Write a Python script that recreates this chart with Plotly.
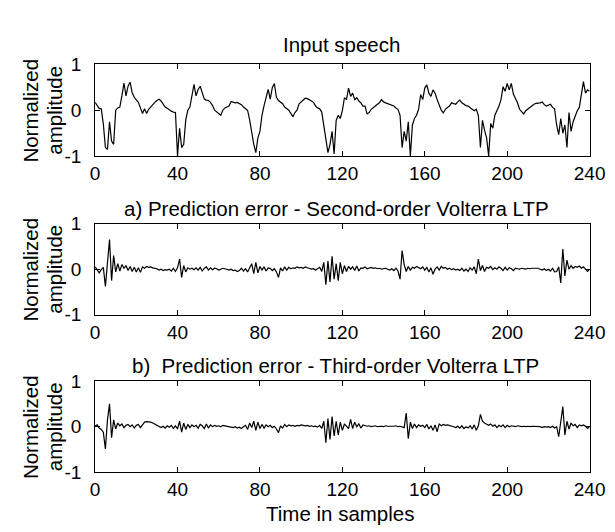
import plotly.graph_objects as go

W, H = 615, 532

samples = list(range(0, 241))

speech = [
    0.17, 0.10, 0.04, 0.03, -0.30, -0.81, -0.85, -0.25, -0.67, -0.74,
    0.00, 0.05, 0.07, 0.31, 0.59, 0.31, 0.52, 0.61, 0.38, 0.28,
    0.22, 0.17, 0.05, -0.07, 0.03, -0.07, 0.02, 0.07, 0.14, 0.17,
    0.21, 0.24, 0.20, 0.14, 0.07, 0.04, 0.00, -0.02, -0.04, -0.05,
    -0.99, -0.39, -0.81, -0.74, -0.21, 0.00, 0.07, 0.31, 0.56, 0.31,
    0.45, 0.52, 0.35, 0.24, 0.22, 0.21, 0.17, 0.10, 0.00, -0.04,
    -0.08, -0.11, 0.00, 0.05, 0.07, 0.09, 0.19, 0.17, 0.16, 0.17,
    0.14, 0.12, 0.07, 0.04, 0.00, -0.21, -0.53, -0.74, -0.92, -0.60,
    -0.46, -0.11, 0.10, 0.31, 0.45, 0.24, 0.49, 0.58, 0.28, 0.21,
    0.17, 0.14, 0.07, 0.03, 0.00, -0.07, -0.14, -0.05, 0.00, 0.14,
    0.18, 0.21, 0.26, 0.25, 0.23, 0.20, 0.17, 0.09, 0.05, 0.03,
    -0.04, -0.32, -0.67, -0.92, -0.74, -0.46, -0.95, -0.22, -0.11, -0.18,
    -0.01, 0.27, 0.23, 0.48, 0.30, 0.37, 0.23, 0.27, 0.20, 0.16,
    0.09, 0.09, -0.08, -0.05, 0.02, 0.05, 0.09, 0.13, 0.16, 0.23,
    0.18, 0.16, 0.14, 0.13, 0.11, 0.09, 0.05, 0.02, -0.11, -0.81,
    -0.46, -0.67, -0.25, -0.99, -0.32, -0.18, -0.11, 0.02, 0.34, 0.23,
    0.48, 0.55, 0.37, 0.30, 0.44, 0.37, 0.23, 0.09, 0.00, -0.06,
    0.02, 0.06, 0.09, 0.16, 0.14, 0.13, 0.18, 0.22, 0.16, 0.13,
    0.10, 0.09, 0.06, 0.02, -0.01, 0.02, -0.11, -0.81, -0.22, -0.43,
    -0.60, -0.99, -0.29, -0.39, -0.11, -0.01, 0.09, 0.23, 0.51, 0.41,
    0.58, 0.44, 0.58, 0.35, 0.27, 0.16, 0.02, -0.03, -0.08, -0.01,
    0.03, 0.06, 0.10, 0.13, 0.15, 0.15, 0.16, 0.18, 0.12, 0.09,
    0.11, 0.13, 0.06, 0.03, -0.32, -0.53, -0.18, -0.50, -0.32, -0.81,
    -0.05, -0.46, -0.25, -0.11, -0.01, 0.06, 0.30, 0.62, 0.37, 0.44,
    0.41,
]

error_second = [
    0.05, -0.03, -0.08, -0.01, 0.04, -0.38, 0.22, 0.65, -0.25, 0.30,
    -0.06, 0.12, -0.04, 0.10, 0.02, 0.08, -0.03, 0.06, -0.05, 0.04,
    -0.06, 0.03, -0.07, 0.05, 0.02, 0.06, 0.04, 0.05, 0.03, 0.02,
    0.01, -0.02, 0.00, -0.03, -0.01, -0.02, 0.00, -0.04, 0.02, -0.05,
    0.03, 0.22, -0.18, 0.08, -0.06, 0.03, 0.00, 0.02, -0.01, 0.03,
    -0.02, 0.04, -0.04, 0.02, 0.05, -0.02, 0.03, -0.01, 0.02, 0.01,
    -0.02, 0.00, 0.02, 0.01, 0.00, -0.02, 0.00, -0.03, -0.02, -0.05,
    -0.03, 0.02, -0.04, 0.01, -0.06, 0.04, 0.12, -0.10, 0.15, -0.08,
    0.06, -0.02, 0.05, -0.04, 0.03, 0.02, -0.03, 0.01, -0.06, -0.18,
    0.03, -0.04, 0.05, -0.02, 0.04, 0.01, 0.03, 0.02, 0.05, 0.03,
    0.04, 0.02, 0.05, 0.03, 0.02, 0.00, 0.01, -0.02, 0.01, 0.04,
    -0.05, 0.15, -0.34, 0.18, -0.28, 0.28, -0.22, 0.12, -0.25, 0.15,
    -0.10, 0.08, -0.05, 0.06, 0.00, 0.05, -0.03, 0.07, -0.04, 0.03,
    0.02, 0.05, 0.01, 0.03, 0.04, 0.02, 0.03, 0.01, 0.02, 0.00,
    0.01, 0.02, 0.00, -0.02, 0.01, -0.03, 0.02, -0.04, -0.22, 0.41,
    0.10, -0.05, 0.06, -0.02, 0.04, 0.02, 0.06, 0.03, 0.01, 0.05,
    -0.02, 0.04, -0.06, 0.03, -0.11, 0.00, 0.05, -0.02, 0.06, 0.02,
    0.04, 0.00, 0.02, -0.01, 0.01, -0.02, 0.00, -0.03, 0.02, -0.04,
    0.00, -0.05, 0.03, -0.02, 0.05, -0.10, 0.22, -0.03, 0.08, -0.05,
    0.04, 0.02, 0.06, -0.01, 0.03, 0.00, 0.05, 0.02, -0.03, 0.04,
    -0.02, 0.03, 0.01, -0.03, 0.02, 0.01, 0.00, 0.02, 0.01, 0.00,
    0.02, 0.01, 0.02, 0.02, 0.01, 0.02, 0.00, -0.02, 0.01, -0.03,
    0.00, -0.04, 0.02, -0.06, -0.05, 0.05, -0.30, 0.44, -0.15, 0.20,
    0.00, 0.08, 0.02, 0.06, 0.04, 0.07, 0.02, 0.05, 0.00, -0.05,
    0.00,
]

error_third = [
    0.02, 0.04, -0.03, -0.06, -0.12, -0.49, 0.15, 0.50, -0.24, 0.15,
    -0.05, 0.08, 0.02, 0.06, -0.02, 0.03, 0.05, 0.00, 0.04, -0.03,
    0.03, 0.05, -0.02, 0.04, 0.10, 0.11, 0.11, 0.10, 0.08, 0.05,
    0.02, 0.00, -0.02, 0.01, -0.03, 0.02, -0.01, 0.03, -0.04, 0.02,
    -0.05, 0.12, -0.12, 0.08, -0.06, 0.05, -0.02, 0.04, 0.00, 0.03,
    -0.03, 0.05, 0.02, -0.04, 0.06, -0.03, 0.04, 0.00, 0.03, 0.01,
    0.02, 0.00, 0.03, 0.02, 0.01, 0.00, -0.01, -0.02, 0.00, -0.03,
    -0.01, -0.04, 0.00, 0.03, -0.06, 0.08, -0.02, 0.12, -0.08, 0.10,
    -0.04, 0.05, -0.03, 0.04, 0.00, 0.03, -0.02, 0.01, -0.05, -0.13,
    0.02, -0.03, 0.05, 0.00, 0.04, 0.02, 0.03, 0.01, 0.03, 0.02,
    0.04, 0.03, 0.02, 0.03, 0.01, 0.02, 0.00, 0.01, -0.01, 0.03,
    -0.04, 0.12, -0.35, 0.18, -0.28, 0.22, -0.20, 0.12, -0.18, 0.10,
    -0.08, 0.06, 0.02, -0.04, 0.16, -0.04, 0.10, 0.00, 0.06, -0.03,
    0.04, 0.02, 0.01, 0.02, 0.00, 0.01, 0.02, 0.00, 0.01, 0.01,
    0.00, 0.02, 0.01, 0.01, 0.00, 0.01, 0.02, 0.00, 0.01, 0.00,
    -0.02, 0.30, -0.26, 0.10, -0.04, 0.06, -0.02, 0.04, 0.01, 0.03,
    -0.02, 0.05, -0.05, 0.02, -0.08, 0.04, -0.11, 0.06, 0.02, 0.05,
    0.03, 0.04, 0.03, 0.02, 0.00, -0.02, 0.01, -0.03, 0.02, -0.04,
    0.00, -0.03, 0.02, -0.05, 0.04, -0.08, 0.02, 0.27, 0.12, 0.08,
    0.05, 0.03, 0.06, 0.01, 0.04, -0.02, 0.03, 0.00, 0.04, -0.02,
    0.03, 0.00, 0.02, 0.01, 0.00, 0.02, 0.01, 0.00, 0.01, 0.00,
    0.01, 0.00, 0.01, 0.01, 0.00, 0.01, 0.00, -0.02, 0.00, -0.01,
    0.00, -0.02, 0.01, -0.03, 0.00, -0.22, 0.15, 0.44, -0.18, 0.12,
    -0.05, 0.08, 0.02, 0.05, -0.02, 0.04, 0.02, 0.04, 0.01, -0.04,
    0.00,
]

x_ticks = [0, 40, 80, 120, 160, 200, 240]
y_ticks = [-1, 0, 1]
panel_titles = [
    "Input speech",
    "a) Prediction error - Second-order Volterra LTP",
    "b)  Prediction error - Third-order Volterra LTP",
]
x_title = "Time in samples"
y_title_lines = ["Normalized", "amplitude"]

FONT = "Liberation Sans, Arial, sans-serif"
FS_TICK = 19
FS_LABEL = 20.5

# panel pixel boxes (top, bottom)
panels_px = [(48, 144), (214, 309), (378, 473)]
x_left_px, x_right_px = 85, 597
title_pos_px = [(340, 28), (335, 198), (334, 362)]
ytitle_x_px = [18, 43]


def py(p):
    return 1 - p / H


def px(p):
    return p / W


fig = go.Figure()
series = [speech, error_second, error_third]
for i, vals in enumerate(series):
    n = "" if i == 0 else str(i + 1)
    fig.add_trace(go.Scatter(
        x=samples, y=vals, mode="lines",
        line=dict(color="black", width=1.2),
        xaxis="x" + n, yaxis="y" + n, showlegend=False,
        hoverinfo="skip",
    ))
    top, bot = panels_px[i]
    ax = dict(
        domain=[px(x_left_px), px(x_right_px)],
        range=[0, 240], tickvals=x_ticks, ticktext=[str(v) for v in x_ticks],
        ticks="inside", ticklen=5, tickcolor="black", tickwidth=1,
        showline=True, linecolor="black", linewidth=1, mirror="ticks",
        showgrid=False, zeroline=False,
        tickfont=dict(family=FONT, size=FS_TICK, color="black"),
        ticklabelstandoff=0,
        anchor="y" + n,
    )
    ay = dict(
        domain=[py(bot), py(top)],
        range=[-1, 1], tickvals=y_ticks, ticktext=[str(v) for v in y_ticks],
        ticks="inside", ticklen=5, tickcolor="black", tickwidth=1,
        showline=True, linecolor="black", linewidth=1, mirror="ticks",
        showgrid=False, zeroline=False,
        tickfont=dict(family=FONT, size=FS_TICK, color="black"),
        ticklabelstandoff=9,
        anchor="x" + n,
    )
    fig.update_layout({"xaxis" + n: ax, "yaxis" + n: ay})

annotations = []
for i, t in enumerate(panel_titles):
    tx, ty = title_pos_px[i]
    annotations.append(dict(
        text=t, x=px(tx), y=py(ty),
        xref="paper", yref="paper", showarrow=False,
        xanchor="center", yanchor="middle",
        font=dict(family=FONT, size=FS_LABEL, color="black"),
    ))
    top, bot = panels_px[i]
    cy = py((top + bot) / 2)
    for j, line in enumerate(y_title_lines):
        annotations.append(dict(
            text=line, x=px(ytitle_x_px[j]), y=cy,
            xref="paper", yref="paper", showarrow=False,
            xanchor="center", yanchor="middle", textangle=-90,
            font=dict(family=FONT, size=FS_LABEL, color="black"),
        ))
annotations.append(dict(
    text=x_title, x=px(339), y=py(516),
    xref="paper", yref="paper", showarrow=False,
    xanchor="center", yanchor="middle",
    font=dict(family=FONT, size=FS_LABEL, color="black"),
))

fig.update_layout(
    width=W, height=H,
    margin=dict(l=0, r=0, t=0, b=0),
    paper_bgcolor="white", plot_bgcolor="white",
    annotations=annotations,
    showlegend=False,
)

fig.write_html("out.html")
